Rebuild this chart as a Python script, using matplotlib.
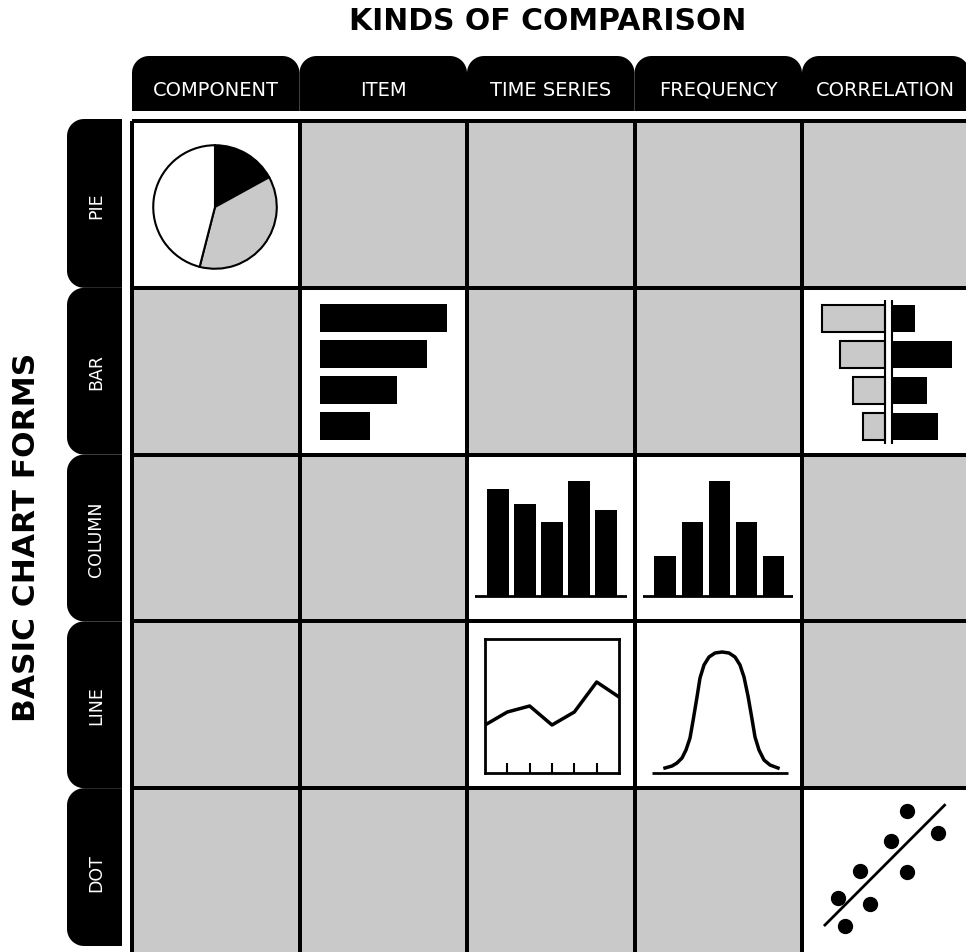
import numpy as np
import matplotlib
matplotlib.use("Agg")
import matplotlib.pyplot as plt
from matplotlib.colors import ListedColormap
from matplotlib.patches import Polygon

# --- data ------------------------------------------------------------------
kinds = ["COMPONENT", "ITEM", "TIME SERIES", "FREQUENCY", "CORRELATION"]
forms = ["PIE", "BAR", "COLUMN", "LINE", "DOT"]
# 1 = chart form suits the kind of comparison (white cell), 0 = grey
fit = [
  [1, 0, 0, 0, 0],
  [0, 1, 0, 0, 1],
  [0, 0, 1, 1, 0],
  [0, 0, 1, 1, 0],
  [0, 0, 0, 0, 1],
]

pie_shares = [17, 37, 46]
item_values = [10, 8.4, 6.1, 3.9]
corr_left = [63, 45, 32, 22]
corr_right = [23, 60, 35, 46]
ts_columns = [107, 92, 74, 115, 86]
freq_columns = [40, 74, 115, 74, 40]
ts_line = [48, 61, 67, 48, 61, 91, 76]
bell_x = [-57, -50, -45, -40, -36, -32, -29, -25, -22, -18, -13, -7, 0,
          7, 13, 18, 22, 26, 30, 33, 37, 42, 48, 56]
bell_y = [5, 7, 10, 15, 23, 35, 52, 76, 95, 108, 116, 120, 121,
          120, 116, 108, 96, 77, 54, 36, 23, 13, 8, 5]
dot_x = [105, 136, 89, 58, 105, 36, 68, 43]
dot_y = [144, 122, 114, 84, 83, 57, 51, 29]
trend_x = [23, 143]
trend_y = [30, 150]

# --- layout (pixels) --------------------------------------------------------
W, H = 966, 953
GREY = "#c9c9c9"
col_edges = 132 + 167.5 * np.arange(6)
row_edges = 122 + 166.8 * np.arange(6)

fig = plt.figure(figsize=(W / 100, H / 100), dpi=100)
base = fig.add_axes([0, 0, 1, 1])
base.set_xlim(0, W)
base.set_ylim(H, 0)
base.axis("off")


def px_axes(x0, y0, x1, y1):
  ax = fig.add_axes([x0 / W, 1 - y1 / H, (x1 - x0) / W, (y1 - y0) / H])
  ax.patch.set_alpha(0)
  ax.axis("off")
  return ax


def arc(cx, cy, r, a0, a1, n=12):
  t = np.radians(np.linspace(a0, a1, n))
  return list(zip(cx + r * np.cos(t), cy + r * np.sin(t)))


def top_tab(x0, x1, y0, y1, r=17):
  pts = [(x0, y1)] + arc(x0 + r, y0 + r, r, 180, 270) + arc(x1 - r, y0 + r, r, 270, 360) + [(x1, y1)]
  return Polygon(pts, closed=True, color="black", lw=0)


def left_tab(x0, x1, y0, y1, r=17):
  pts = [(x1, y0)] + arc(x0 + r, y0 + r, r, 270, 180) + arc(x0 + r, y1 - r, r, 180, 90) + [(x1, y1)]
  return Polygon(pts, closed=True, color="black", lw=0)


# titles
base.text(548, 22, "KINDS OF COMPARISON", ha="center", va="center",
          fontsize=21.5, fontweight="bold")
base.text(27, 537, "BASIC CHART FORMS", ha="center", va="center",
          fontsize=22.5, fontweight="bold", rotation=90)

# column tabs
for i, kind in enumerate(kinds):
  base.add_patch(top_tab(col_edges[i], col_edges[i + 1], 57, 112))
  base.text((col_edges[i] + col_edges[i + 1]) / 2, 90, kind, color="white",
            ha="center", va="center", fontsize=14)

# row tabs
tab_edges = row_edges.copy()
tab_edges[0] = 120
tab_edges[-1] = 947
for j, form in enumerate(forms):
  base.add_patch(left_tab(67, 122, tab_edges[j], tab_edges[j + 1]))
  base.text(96, (row_edges[j] + row_edges[j + 1]) / 2, form, color="white",
            ha="center", va="center", fontsize=12.5, rotation=90)

# matrix of cells
base.pcolormesh(col_edges, row_edges, np.array(fit), cmap=ListedColormap([GREY, "white"]),
                edgecolors="black", linewidth=1.7)

# pie / component
ax = px_axes(152, 145, 278, 271)
ax.pie(pie_shares, colors=["black", GREY, "white"], startangle=90, counterclock=False,
       wedgeprops=dict(edgecolor="black", linewidth=1.5))
ax.set_xlim(-1.02, 1.02)
ax.set_ylim(-1.02, 1.02)

# bar / item
ax = px_axes(320, 301, 460, 445)
ax.barh(range(len(item_values)), item_values, height=0.78, color="black")
ax.set_xlim(0, 11.02)
ax.set_ylim(3.5, -0.5)

# bar / correlation
ax = px_axes(810, 301, 966, 445)
rows = np.arange(len(corr_left))
ax.barh(rows, -np.array(corr_left), left=-3.5, height=0.75, color=GREY,
        edgecolor="black", linewidth=1.5)
ax.barh(rows, corr_right, left=3.5, height=0.75, color="black")
ax.vlines([-3.5, 3.5], -0.55, 3.55, color="black", lw=1.5)
ax.set_xlim(-78, 78)
ax.set_ylim(3.5, -0.5)

# column / time series
ax = px_axes(475, 467, 627, 602)
ax.bar(range(len(ts_columns)), ts_columns, width=0.81, color="black")
ax.axhline(0, color="black", lw=2)
ax.set_xlim(-0.85, 4.78)
ax.set_ylim(-5, 130)

# column / frequency
ax = px_axes(643, 467, 793, 602)
ax.bar(range(len(freq_columns)), freq_columns, width=0.81, color="black")
ax.axhline(0, color="black", lw=2)
ax.set_xlim(-0.83, 4.72)
ax.set_ylim(-5, 130)

# line / time series
ax = px_axes(485, 640, 619, 774)
ax.axis("on")
ax.plot(range(len(ts_line)), ts_line, color="black", lw=2.5)
ax.set_xlim(0, len(ts_line) - 1)
ax.set_ylim(0, 134)
for s in ax.spines.values():
  s.set_linewidth(2)
ax.set_xticks(range(1, len(ts_line) - 1))
ax.set_yticks([])
ax.tick_params(axis="x", direction="in", length=7, width=1.5, labelbottom=False)

# line / frequency
ax = px_axes(645, 640, 795, 776)
ax.plot(bell_x, bell_y, color="black", lw=2.5, solid_joinstyle="round")
ax.hlines(0, -70, 66, color="black", lw=2)
ax.set_xlim(-77, 73)
ax.set_ylim(-2, 134)

# dot / correlation
ax = px_axes(col_edges[4], row_edges[4], col_edges[5], row_edges[5])
ax.scatter(dot_x, dot_y, s=100, color="black")
ax.plot(trend_x, trend_y, color="black", lw=2)
ax.set_xlim(0, 168)
ax.set_ylim(0, 167)

fig.savefig("out.png", dpi=100)
